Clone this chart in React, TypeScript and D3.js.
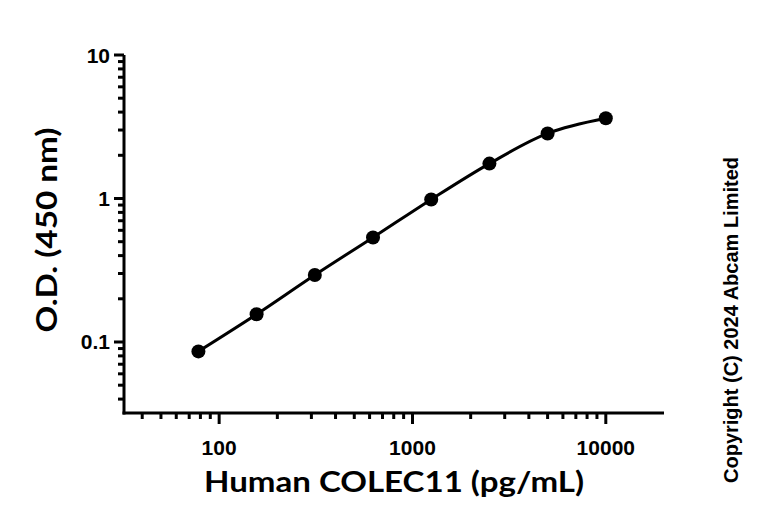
import { useEffect, useRef } from "react";
import * as d3 from "d3";

// standard curve: concentration (pg/mL) vs O.D. at 450 nm
const concentrations = [78.125, 156.25, 312.5, 625, 1250, 2500, 5000, 10000];
const odValues = [0.086, 0.156, 0.293, 0.535, 0.985, 1.75, 2.84, 3.62];

const xMajorTicks = [100, 1000, 10000];
const xMinorTicks = [
  40, 50, 60, 70, 80, 90, 200, 300, 400, 500, 600, 700, 800, 900, 2000, 3000,
  4000, 5000, 6000, 7000, 8000, 9000,
];
const yMajorTicks = [0.1, 1, 10];
const yMinorTicks = [
  0.04, 0.05, 0.06, 0.07, 0.08, 0.09, 0.2, 0.3, 0.4, 0.5, 0.6, 0.7, 0.8, 0.9,
  2, 3, 4, 5, 6, 7, 8, 9,
];

const W = 768;
const H = 522;
const dims = { left: 124, right: 664, top: 55, bottom: 413 };

const tickFont = "'Liberation Sans', Arial, sans-serif";
const titleFont = "Lato, 'Open Sans', sans-serif";

const App = () => {
  const svgRef = useRef(null);

  useEffect(() => {
    const svg = d3.select(svgRef.current);
    svg.selectAll("*").remove();

    const xScale = d3
      .scaleLog()
      .domain([32.2, 20000])
      .range([dims.left, dims.right]);
    const yScale = d3
      .scaleLog()
      .domain([0.032, 10])
      .range([dims.bottom, dims.top]);

    // x axis
    const xg = svg.append("g");
    xg.append("line")
      .attr("x1", dims.left - 1.5)
      .attr("x2", dims.right)
      .attr("y1", dims.bottom)
      .attr("y2", dims.bottom)
      .attr("stroke", "#000")
      .attr("stroke-width", 3);
    xg.selectAll(".xminor")
      .data(xMinorTicks)
      .join("line")
      .attr("x1", (d) => xScale(d))
      .attr("x2", (d) => xScale(d))
      .attr("y1", dims.bottom)
      .attr("y2", dims.bottom + 6)
      .attr("stroke", "#000")
      .attr("stroke-width", 3);
    xg.selectAll(".xmajor")
      .data(xMajorTicks)
      .join("line")
      .attr("x1", (d) => xScale(d))
      .attr("x2", (d) => xScale(d))
      .attr("y1", dims.bottom)
      .attr("y2", dims.bottom + 11)
      .attr("stroke", "#000")
      .attr("stroke-width", 3);
    xg.selectAll(".xlabel")
      .data(xMajorTicks)
      .join("text")
      .attr("x", (d) => xScale(d))
      .attr("y", 455)
      .attr("text-anchor", "middle")
      .attr("font-family", tickFont)
      .attr("font-weight", "bold")
      .attr("font-size", 21)
      .text((d) => String(d));

    // y axis
    const yg = svg.append("g");
    yg.append("line")
      .attr("x1", dims.left)
      .attr("x2", dims.left)
      .attr("y1", dims.top)
      .attr("y2", dims.bottom + 1.5)
      .attr("stroke", "#000")
      .attr("stroke-width", 3);
    yg.selectAll(".yminor")
      .data(yMinorTicks)
      .join("line")
      .attr("x1", dims.left - 6)
      .attr("x2", dims.left)
      .attr("y1", (d) => yScale(d))
      .attr("y2", (d) => yScale(d))
      .attr("stroke", "#000")
      .attr("stroke-width", 3);
    yg.selectAll(".ymajor")
      .data(yMajorTicks)
      .join("line")
      .attr("x1", dims.left - 10)
      .attr("x2", dims.left)
      .attr("y1", (d) => yScale(d))
      .attr("y2", (d) => yScale(d))
      .attr("stroke", "#000")
      .attr("stroke-width", 3);
    yg.selectAll(".ylabel")
      .data(yMajorTicks)
      .join("text")
      .attr("x", 110)
      .attr("y", (d) => yScale(d) + 7.5)
      .attr("text-anchor", "end")
      .attr("font-family", tickFont)
      .attr("font-weight", "bold")
      .attr("font-size", 21)
      .text((d) => String(d));

    // fitted curve through the standards
    const pts = concentrations.map((c, i) => [c, odValues[i]]);
    const line = d3
      .line()
      .x((d) => xScale(d[0]))
      .y((d) => yScale(d[1]))
      .curve(d3.curveCatmullRom.alpha(0.5));
    svg
      .append("path")
      .attr("d", line(pts))
      .attr("fill", "none")
      .attr("stroke", "#000")
      .attr("stroke-width", 3);

    svg
      .selectAll(".dot")
      .data(pts)
      .join("circle")
      .attr("cx", (d) => xScale(d[0]))
      .attr("cy", (d) => yScale(d[1]))
      .attr("r", 7)
      .attr("fill", "#000");

    // axis titles
    svg
      .append("text")
      .attr("x", 394)
      .attr("y", 492)
      .attr("text-anchor", "middle")
      .attr("font-family", titleFont)
      .attr("font-weight", "bold")
      .attr("font-size", 29)
      .attr("textLength", 380)
      .attr("lengthAdjust", "spacingAndGlyphs")
      .text("Human COLEC11 (pg/mL)");

    svg
      .append("text")
      .attr("transform", "translate(57,230) rotate(-90)")
      .attr("text-anchor", "middle")
      .attr("font-family", titleFont)
      .attr("font-weight", "bold")
      .attr("font-size", 29)
      .attr("textLength", 205)
      .attr("lengthAdjust", "spacingAndGlyphs")
      .text("O.D. (450 nm)");

    svg
      .append("text")
      .attr("transform", "translate(738,320) rotate(-90)")
      .attr("text-anchor", "middle")
      .attr("font-family", tickFont)
      .attr("font-weight", "bold")
      .attr("font-size", 20)
      .text("Copyright (C) 2024 Abcam Limited");
  }, []);

  return (
    <svg
      ref={svgRef}
      width={W}
      height={H}
      style={{ position: "absolute", left: 0, top: 0, background: "#fff" }}
    ></svg>
  );
};

export default App;
